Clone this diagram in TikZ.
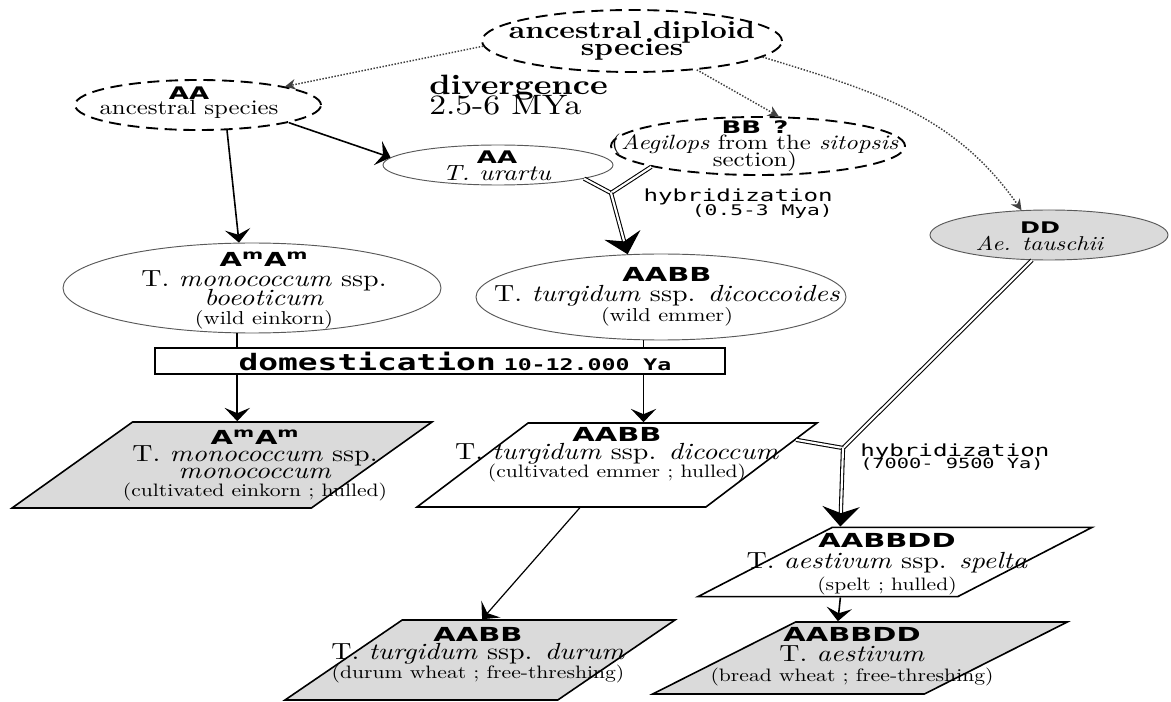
\documentclass[tikz,border=0pt]{standalone}
\usepackage{fontspec}
\setmainfont{lmroman10}[Extension=.otf, UprightFont=*-regular, BoldFont=*-bold, ItalicFont=*-italic, BoldItalicFont=*-bolditalic, FakeStretch=1.2]
\newfontfamily\codefont{DejaVu Sans}[FakeStretch=1.5]
\newfontfamily\timefont{DejaVu Sans Mono}[FakeStretch=1.45]
\usetikzlibrary{arrows.meta,shapes.geometric}
\definecolor{boxgray}{RGB}{218,218,218}
\lineskiplimit=-100pt

\newcommand\gen[2][13]{{\fontsize{#1}{#1}\codefont\bfseries #2}}
\newcommand\vern[2][13.5]{{\fontsize{#1}{#1}\selectfont #2}}

\begin{document}
\begin{tikzpicture}[x=0.75pt,y=0.75pt,yscale=-1,xscale=1,
  dashell/.style={ellipse, draw, line width=1.4pt, dash pattern=on 9pt off 5pt, inner sep=0pt},
  thinell/.style={ellipse, draw=black!65, line width=0.7pt, inner sep=0pt},
  para/.style={trapezium, trapezium stretches=true, draw, line width=1.2pt, inner sep=2pt},
  lbl/.style={align=center, inner sep=0pt},
  arr/.style={line width=1.2pt, -{Stealth[length=10pt,width=19pt,inset=4pt]}},
  dots/.style={line width=1.1pt, black!75, dash pattern=on 1.1pt off 1.2pt, -{Stealth[length=8pt,width=8pt]}},
  hyb/.style={double, double distance=1.6pt, line width=0.8pt},
  bighead/.style={-{Stealth[length=15pt,width=28pt,inset=5pt]}}]
        \path [use as bounding box, fill=white] (0,0) rectangle (1171,702);

        %Shape: Ellipse -- ancestral diploid species
        \node [dashell, minimum width=225pt, minimum height=46.5pt] (dip) at (632,41) {};
        \node [lbl, font=\fontsize{18.5}{13}\selectfont\bfseries] (dip-t) at (632,41) {ancestral diploid\\species};
        %Shape: Ellipse -- AA ancestral species
        \node [dashell, minimum width=184.5pt, minimum height=37.5pt] (anc) at (198,105) {};
        \node [lbl, font=\fontsize{15.5}{11.5}\selectfont] (anc-t) at (189,103) {\gen{AA}\\ancestral species};
        % Text Node
        \node [lbl, align=left, anchor=west, font=\fontsize{21}{15}\selectfont] (div) at (429,95) {\textbf{divergence}\\2.5-6 MYa};
        %Shape: Ellipse -- T. urartu
        \node [thinell, minimum width=172.5pt, minimum height=30pt] (ura) at (498,165) {};
        \node [lbl, font=\fontsize{16.5}{12.75}\selectfont] (ura-t) at (497,166) {\gen{AA}\\\textit{T. urartu}};
        %Shape: Ellipse -- BB
        \node [dashell, minimum width=220.5pt, minimum height=43.5pt] (bb) at (758,146) {};
        \node [lbl, font=\fontsize{15.5}{12.5}\selectfont] (bb-t) at (755,146) {\gen{BB\hspace{0.7em}?}\\(\textit{Aegilops} from the \textit{sitopsis}\\section)};
        %Shape: Ellipse -- DD
        \node [thinell, fill=boxgray, minimum width=178.5pt, minimum height=37.5pt] (dd) at (1049,235) {};
        \node [lbl, font=\fontsize{15}{13}\selectfont] (dd-t) at (1040,236) {\gen[12]{DD}\\\textit{Ae. tauschii}};
        %Shape: Ellipse -- wild einkorn
        \node [thinell, minimum width=283.5pt, minimum height=67.5pt] (boe) at (252,288) {};
        \node [lbl, font=\fontsize{17.5}{14.5}\selectfont] (boe-t) at (264,291) {\gen[14.5]{A\textsuperscript{m}A\textsuperscript{m}}\\T. \textit{monococcum} ssp.\\\textit{boeoticum}\\\vern[14]{(wild einkorn)}};
        %Shape: Ellipse -- wild emmer
        \node [thinell, minimum width=277.5pt, minimum height=64.5pt] (dic) at (661,297) {};
        \node [lbl, font=\fontsize{17.5}{15}\selectfont] (dic-t) at (667,297) {\gen[14.5]{AABB}\\T. \textit{turgidum} ssp. \textit{dicoccoides}\\\vern[14]{(wild emmer)}};
        %Shape: Rectangle -- domestication
        \node [draw, line width=1.3pt, fill=white, minimum width=427.5pt, minimum height=19.5pt, inner sep=0pt] (dom) at (440,361) {};
        \node [lbl] (dom-t) at (455,361) {{\fontsize{17}{17}\timefont\bfseries domestication}\hspace{0.6em}{\fontsize{12}{12}\timefont\bfseries 10-12.000 Ya}};

        %Shape: Parallelogram -- cultivated einkorn
        \node [para, fill=boxgray, trapezium left angle=56, trapezium right angle=124, minimum width=315pt, minimum height=64.5pt] (mon) at (222,465) {};
        \node [lbl, font=\fontsize{17.5}{13}\selectfont] (mon-t) at (255,465) {\gen[14.5]{A\textsuperscript{m}A\textsuperscript{m}}\\T. \textit{monococcum} ssp.\\\textit{monococcum}\\\vern{(cultivated einkorn ; hulled)}};
        %Shape: Parallelogram -- cultivated emmer
        \node [para, fill=white, trapezium left angle=58, trapezium right angle=122, minimum width=300pt, minimum height=63pt] (cem) at (617,465) {};
        \node [lbl, font=\fontsize{17.5}{13.5}\selectfont] (cem-t) at (617,455) {\gen[14.5]{AABB}\\T. \textit{turgidum} ssp. \textit{dicoccum}\\\vern{(cultivated emmer ; hulled)}};
        %Shape: Parallelogram -- durum
        \node [para, fill=boxgray, trapezium left angle=53, trapezium right angle=127, minimum width=292.5pt, minimum height=60pt] (dur) at (480,660) {};
        \node [lbl, font=\fontsize{17.5}{14}\selectfont] (dur-t) at (478,655) {\gen[14.5]{AABB}\\T. \textit{turgidum} ssp. \textit{durum}\\\vern{(durum wheat ; free-threshing)}};
        %Shape: Parallelogram -- spelt
        \node [para, fill=white, trapezium left angle=43, trapezium right angle=137, minimum width=296pt, minimum height=52pt] (spe) at (895,562) {};
        \node [lbl, font=\fontsize{17.5}{16}\selectfont] (spe-t) at (887,564) {\gen[14.5]{AABBDD}\\T. \textit{aestivum} ssp. \textit{spelta}\\\vern{(spelt ; hulled)}};
        %Shape: Parallelogram -- bread wheat
        \node [para, fill=boxgray, trapezium left angle=42, trapezium right angle=138, minimum width=311pt, minimum height=54pt] (aes) at (860,658) {};
        \node [lbl, font=\fontsize{17.5}{15}\selectfont] (aes-t) at (852,657) {\gen[14.5]{AABBDD}\\T. \textit{aestivum}\\\vern{(bread wheat ; free-threshing)}};

        % Text Node
        \node [lbl, align=right, anchor=east, font=\fontsize{12.5}{10.5}\timefont] (hyb1) at (833,204) {hybridization\\{\fontsize{11}{10.5}\selectfont (0.5-3 Mya)}};
        \node [lbl, align=left, anchor=west, font=\fontsize{12.5}{8.5}\timefont] (hyb2) at (860,457) {hybridization\\{\fontsize{10.5}{8.5}\selectfont (7000- 9500 Ya)}};

        \coordinate (hy1) at (611,193);
        \coordinate (hy2) at (843,448);

        %Dotted Lines
        \draw [dots] (dip.182) -- (anc.12);
        \draw [dots] (dip.-24) -- (bb.55);
        \draw [dots] (dip.-7) to [out=17, in=-125] (dd.138);
        %Straight Lines
        \draw [arr] (anc.-11) -- (ura.176);
        \draw [arr] (anc.-41) -- (boe.106);
        \draw [line width=1.2pt] (boe.-108) -- (boe.-108 |- dom.north);
        \draw [arr] (boe.-108 |- dom.south) -- (boe.-108 |- mon.north);
        \draw [line width=1.2pt] (dic.-112) -- (dic.-112 |- dom.north);
        \draw [arr] (dic.-112 |- dom.south) -- (dic.-112 |- cem.north);
        \draw [arr, line width=0.9pt] (cem.-131) -- (dur.87);
        \draw [arr] (spe.-147.5) -- (aes.121);
        %Double Lines
        \draw [hyb] (ura.-9) -- (hy1);
        \draw [hyb] (bb.-169) -- (hy1);
        \draw [hyb, bighead] (hy1) -- (dic.128);
        \draw [hyb] (dd.-124) -- (hy2);
        \draw [hyb] (cem.8) -- (hy2);
        \draw [hyb, bighead] (hy2) -- (spe.147);

\end{tikzpicture}
\end{document}
